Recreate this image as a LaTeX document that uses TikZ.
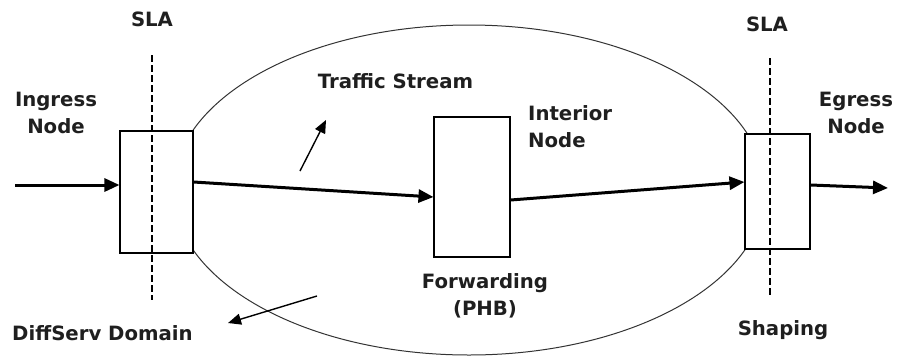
\documentclass[tikz,border=0pt]{standalone}
\usepackage{fontspec}
\setmainfont{DejaVu Sans}
\usetikzlibrary{arrows.meta}
\begin{document}
\begin{tikzpicture}[x=1pt,y=-1pt,
  lbl/.style={font=\fontsize{19.7}{27}\selectfont\bfseries, inner sep=0pt, text=black!88},
  nodebox/.style={draw, fill=white, line width=1.1pt, inner sep=0pt},
  flow/.style={line width=3pt, -{Triangle[length=15pt,width=13pt]}},
  hint/.style={line width=1.4pt, -{Triangle[length=13pt,width=11pt]}},
  sla/.style={line width=1.9pt, dash pattern=on 7pt off 3pt},
  domainline/.style={line width=1pt, draw=black!80}]
\useasboundingbox (0,0) rectangle (898,357);

% DiffServ domain outline
\draw[domainline] (469,190) ellipse [x radius=296, y radius=165];

% boundary and interior nodes
\node[nodebox, minimum width=73pt, minimum height=122pt] (lbox) at (156.5,192) {};
\node[nodebox, minimum width=76pt, minimum height=140pt] (ibox) at (472,187) {};
\node[nodebox, minimum width=65pt, minimum height=115pt] (rbox) at (777.5,191.5) {};

% SLA boundaries
\coordinate (slaLtop) at (152,55);
\coordinate (slaLbot) at (152,300);
\coordinate (slaRtop) at (770,58);
\coordinate (slaRbot) at (770,297);
\draw[sla] (slaLtop) -- (slaLbot);
\draw[sla] (slaRtop) -- (slaRbot);

% packet flow
\coordinate (inStart) at (15,185);
\coordinate (outEnd) at (888,188);
\draw[flow] (inStart) -- (inStart -| lbox.west);
\draw[flow] ([yshift=10pt]lbox.east) -- ([yshift=-10pt]ibox.west);
\draw[flow] ([yshift=-13pt]ibox.east) -- ([yshift=9.5pt]rbox.west);
\draw[flow] ([yshift=6.5pt]rbox.east) -- (outEnd);

% pointers to the labels
\coordinate (tsFrom) at (300,171);
\coordinate (tsTo) at (326,120);
\coordinate (dsFrom) at (317,296);
\coordinate (dsTo) at (228,323);
\draw[hint] (tsFrom) -- (tsTo);
\draw[hint] (dsFrom) -- (dsTo);

% labels (multi-line nodes sit on the baseline of their last line)
\node[lbl, anchor=base] (slaL) at (152,26) {SLA};
\node[lbl, anchor=base] (slaR) at (767,31) {SLA};
\node[lbl, anchor=base, align=center] (ingress) at (56,133) {Ingress\\Node};
\node[lbl, anchor=base, align=center] (egress) at (856,133) {Egress\\Node};
\node[lbl, anchor=base west, align=left] (interior) at (528,147) {Interior\\Node};
\node[lbl, anchor=base] (traffic) at (395.5,88) {Traffic Stream};
\node[lbl, anchor=base, align=center] (fwd) at (485,315) {Forwarding\\(PHB)};
\node[lbl, anchor=base] (shaping) at (783,335) {Shaping};
\node[lbl, anchor=base west] (diffserv) at (12,340) {DiffServ Domain};
\end{tikzpicture}
\end{document}
